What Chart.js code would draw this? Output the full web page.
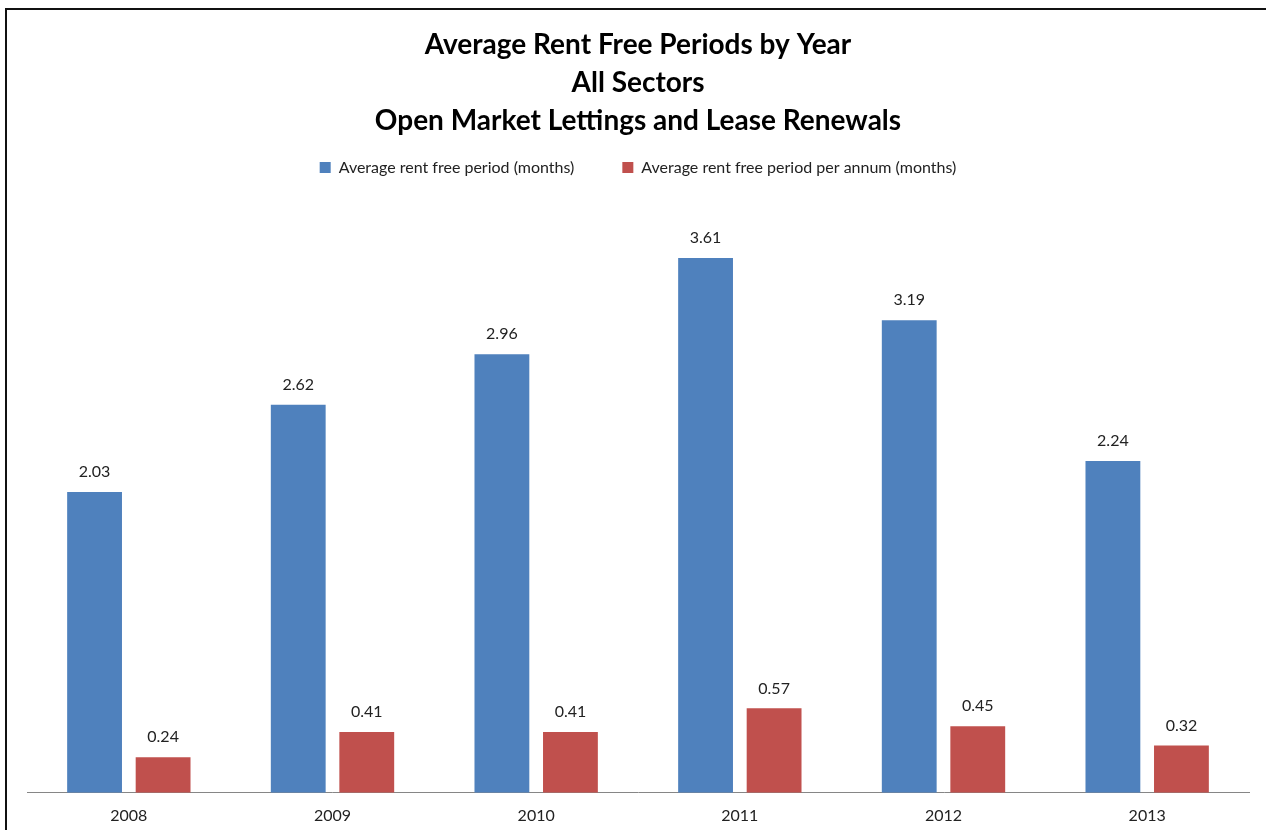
<!DOCTYPE html>
<html lang="en">
  <head>
    <meta charset="UTF-8" />
    <title>Average Rent Free Periods by Year</title>
    <script src="https://cdn.jsdelivr.net/npm/chart.js"></script>
    <style>
      html, body { margin: 0; padding: 0; background: #fff; overflow: hidden; }
      .frame {
        position: absolute; left: 5px; top: 8px; width: 1300px; height: 900px;
        border-left: 2px solid #111; border-top: 2px solid #111;
      }
      .chart-box { position: absolute; left: 0; top: 0; width: 1266px; height: 830px; }
    </style>
  </head>
  <body>
    <div class="frame"></div>
    <div class="chart-box">
      <canvas id="barChart"></canvas>
    </div>
    <script>
      const years = ["2008", "2009", "2010", "2011", "2012", "2013"];
      const rentFree = [2.03, 2.62, 2.96, 3.61, 3.19, 2.24];
      const rentFreePerAnnum = [0.24, 0.41, 0.41, 0.57, 0.45, 0.32];

      const FONT = "Lato, 'Open Sans', sans-serif";

      // value labels on top of each bar
      const barLabels = {
        id: "bar-labels",
        afterDatasetsDraw(chart) {
          const { ctx } = chart;
          ctx.save();
          ctx.font = "16px " + FONT;
          ctx.fillStyle = "#222";
          ctx.textAlign = "center";
          ctx.textBaseline = "middle";
          chart.data.datasets.forEach((ds, i) => {
            chart.getDatasetMeta(i).data.forEach((bar, j) => {
              ctx.fillText(ds.data[j].toFixed(2), bar.x, bar.y - 20);
            });
          });
          ctx.restore();
        },
      };

      new Chart(document.getElementById("barChart"), {
        type: "bar",
        data: {
          labels: years,
          datasets: [
            {
              label: "Average rent free period (months)",
              data: rentFree,
              backgroundColor: "#4F81BD",
            },
            {
              label: "Average rent free period per annum (months)",
              data: rentFreePerAnnum,
              backgroundColor: "#C0504D",
            },
          ],
        },
        options: {
          responsive: true,
          maintainAspectRatio: false,
          animation: false,
          categoryPercentage: 0.673,
          barPercentage: 0.8,
          layout: { padding: { left: 27, right: 17, top: 0, bottom: -8 } },
          plugins: {
            title: {
              display: true,
              text: ["Average Rent Free Periods by Year", "All Sectors", "Open Market Lettings and Lease Renewals"],
              color: "#000",
              font: { family: FONT, size: 28, weight: "bold", lineHeight: 1.35 },
              padding: { top: 26, bottom: -28 },
            },
            legend: {
              position: "top",
              labels: {
                boxWidth: 11,
                boxHeight: 11,
                padding: 48,
                color: "#222",
                font: { family: FONT, size: 16 },
              },
            },
            tooltip: { enabled: false },
          },
          scales: {
            x: {
              grid: { display: false, drawTicks: false },
              border: { display: true, color: "#868686", width: 1 },
              ticks: { color: "#222", font: { family: FONT, size: 16 }, padding: 13 },
            },
            y: {
              display: false,
              min: 0,
              max: 4.1,
            },
          },
        },
        plugins: [barLabels],
      });
    </script>
  </body>
</html>
